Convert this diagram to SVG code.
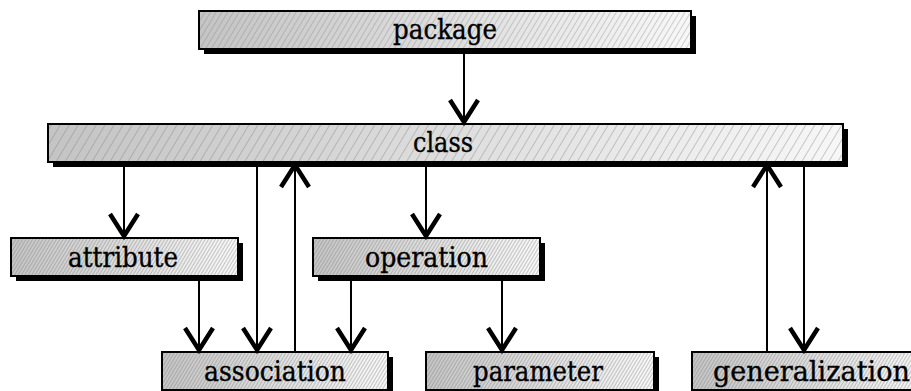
<svg xmlns="http://www.w3.org/2000/svg" width="911" height="391" viewBox="0 0 911 391">
  <defs>
    <!-- grey ramp, darker on the left -->
    <linearGradient id="ramp" x1="0" y1="0" x2="1" y2="0">
      <stop offset="0" stop-color="#c4c4c4"/>
      <stop offset="1" stop-color="#f7f7f7"/>
    </linearGradient>
    <!-- diagonal hatching at three densities -->
    <pattern id="hatch-wide" patternUnits="userSpaceOnUse" width="7.7" height="10" patternTransform="rotate(31)">
      <line x1="0" y1="0" x2="0" y2="10" stroke="#808080" stroke-width="0.8"/>
    </pattern>
    <pattern id="hatch-mid" patternUnits="userSpaceOnUse" width="4.9" height="10" patternTransform="rotate(31)">
      <line x1="0" y1="0" x2="0" y2="10" stroke="#808080" stroke-width="0.7"/>
    </pattern>
    <pattern id="hatch-small" patternUnits="userSpaceOnUse" width="2.9" height="10" patternTransform="rotate(31)">
      <line x1="0" y1="0" x2="0" y2="10" stroke="#767676" stroke-width="0.75"/>
    </pattern>
    <marker id="vee" markerUnits="userSpaceOnUse" orient="auto" refX="0" refY="0" markerWidth="40" markerHeight="40" viewBox="-30 -20 40 40" overflow="visible">
      <path d="M-22,-14 L0,0 L-22,14" fill="none" stroke="#000" stroke-width="4.5" stroke-linejoin="miter"/>
    </marker>
  </defs>
  <style>
    .shadow { fill: #000; }
    .face { fill: url(#ramp); }
    .edge { fill: none; stroke: #000; stroke-width: 2; }
    .label { font-family: "DejaVu Serif", "Liberation Serif", serif; font-size: 27px; fill: #000; stroke: #000; stroke-width: 0.35; text-anchor: middle; }
    .wire { fill: none; stroke: #000; stroke-width: 2; marker-end: url(#vee); }
  </style>

  <rect width="911" height="391" fill="#fff"/>

  <g id="package">
    <rect class="shadow" x="204" y="16" width="492" height="38"/>
    <rect class="face" x="199" y="11" width="492" height="38"/>
    <rect x="199" y="11" width="492" height="38" fill="url(#hatch-mid)"/>
    <rect class="edge" x="199" y="11" width="492" height="38"/>
    <text class="label" x="445" y="39" textLength="104" lengthAdjust="spacingAndGlyphs">package</text>
  </g>

  <g id="class">
    <rect class="shadow" x="53" y="129" width="795" height="38"/>
    <rect class="face" x="48" y="124" width="795" height="38"/>
    <rect x="48" y="124" width="795" height="38" fill="url(#hatch-wide)"/>
    <rect class="edge" x="48" y="124" width="795" height="38"/>
    <text class="label" x="443" y="152" textLength="60" lengthAdjust="spacingAndGlyphs">class</text>
  </g>

  <g id="attribute">
    <rect class="shadow" x="16" y="243" width="227" height="38"/>
    <rect class="face" x="11" y="238" width="227" height="38"/>
    <rect x="11" y="238" width="227" height="38" fill="url(#hatch-small)"/>
    <rect class="edge" x="11" y="238" width="227" height="38"/>
    <text class="label" x="123" y="266.5" textLength="110" lengthAdjust="spacingAndGlyphs">attribute</text>
  </g>

  <g id="operation">
    <rect class="shadow" x="318" y="243" width="227" height="38"/>
    <rect class="face" x="313" y="238" width="227" height="38"/>
    <rect x="313" y="238" width="227" height="38" fill="url(#hatch-small)"/>
    <rect class="edge" x="313" y="238" width="227" height="38"/>
    <text class="label" x="426.5" y="266.5" textLength="123" lengthAdjust="spacingAndGlyphs">operation</text>
  </g>

  <g id="association">
    <rect class="shadow" x="167" y="357" width="226" height="38"/>
    <rect class="face" x="162" y="352" width="226" height="38"/>
    <rect x="162" y="352" width="226" height="38" fill="url(#hatch-small)"/>
    <rect class="edge" x="162" y="352" width="226" height="38"/>
    <text class="label" x="275" y="380.5" textLength="142" lengthAdjust="spacingAndGlyphs">association</text>
  </g>

  <g id="parameter">
    <rect class="shadow" x="431" y="357" width="228" height="38"/>
    <rect class="face" x="426" y="352" width="228" height="38"/>
    <rect x="426" y="352" width="228" height="38" fill="url(#hatch-small)"/>
    <rect class="edge" x="426" y="352" width="228" height="38"/>
    <text class="label" x="538" y="380.5" textLength="130" lengthAdjust="spacingAndGlyphs">parameter</text>
  </g>

  <g id="generalization">
    <rect class="shadow" x="697" y="357" width="239" height="38"/>
    <rect class="face" x="692" y="352" width="239" height="38"/>
    <rect x="692" y="352" width="239" height="38" fill="url(#hatch-small)"/>
    <rect class="edge" x="692" y="352" width="239" height="38"/>
    <text class="label" x="811.5" y="380.5" textLength="197" lengthAdjust="spacingAndGlyphs">generalization</text>
  </g>

  <g id="connectors">
    <line class="wire" x1="464" y1="50" x2="464" y2="122"/>
    <line class="wire" x1="124" y1="167" x2="124" y2="236"/>
    <line class="wire" x1="257" y1="167" x2="257" y2="350"/>
    <line class="wire" x1="295" y1="352" x2="295" y2="165"/>
    <line class="wire" x1="426" y1="167" x2="426" y2="236"/>
    <line class="wire" x1="199" y1="281" x2="199" y2="350"/>
    <line class="wire" x1="351" y1="281" x2="351" y2="350"/>
    <line class="wire" x1="502" y1="281" x2="502" y2="350"/>
    <line class="wire" x1="767" y1="352" x2="767" y2="165"/>
    <line class="wire" x1="804" y1="167" x2="804" y2="350"/>
  </g>
</svg>
